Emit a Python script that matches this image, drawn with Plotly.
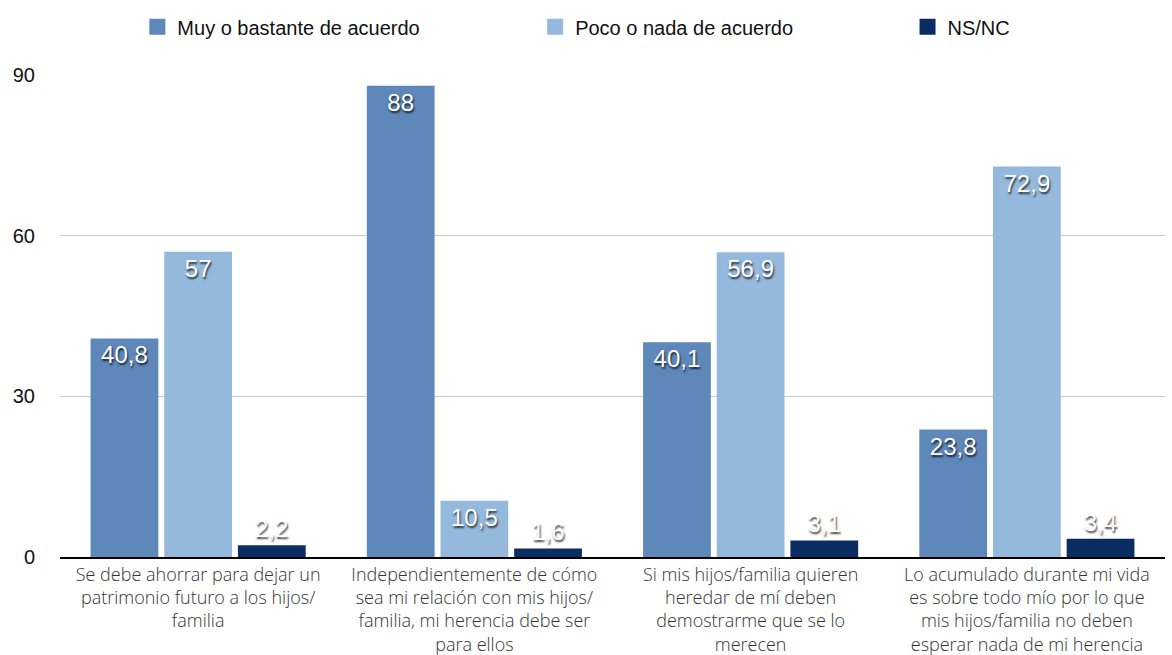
import plotly.graph_objects as go

categories = [
    "Se debe ahorrar para dejar un<br>patrimonio futuro a los hijos/<br>familia",
    "Independientemente de cómo<br>sea mi relación con mis hijos/<br>familia, mi herencia debe ser<br>para ellos",
    "Si mis hijos/familia quieren<br>heredar de mí deben<br>demostrarme que se lo<br>merecen",
    "Lo acumulado durante mi vida<br>es sobre todo mío por lo que<br>mis hijos/familia no deben<br>esperar nada de mi herencia",
]
series_names = ["Muy o bastante de acuerdo", "Poco o nada de acuerdo", "NS/NC"]
muy_acuerdo = [40.8, 88, 40.1, 23.8]
poco_acuerdo = [57, 10.5, 56.9, 72.9]
ns_nc = [2.2, 1.6, 3.1, 3.4]
y_ticks = [0, 30, 60, 90]

colors = ["#5e87ba", "#95b9dc", "#0b2d63"]
series_values = [muy_acuerdo, poco_acuerdo, ns_nc]


def fmt(v):
    s = f"{v:g}"
    return s.replace(".", ",")


fig = go.Figure()
label_font = dict(family="Liberation Sans, Arial, sans-serif", size=24, color="white",
                  shadow="1px 2px 2px rgba(0,0,0,0.75)")
for name, vals, col in zip(series_names, series_values, colors):
    fig.add_trace(go.Bar(
        x=categories, y=vals, name=name, marker=dict(color=col, line=dict(width=0)),
        text=[fmt(v) for v in vals], textposition="auto", insidetextanchor="end",
        textfont=label_font, insidetextfont=label_font, outsidetextfont=label_font,
        cliponaxis=False, showlegend=False, constraintext="none",
    ))

# legend swatches, each in its own legend box
legend_x = [0.070, 0.430, 0.767]
for i, (name, col) in enumerate(zip(series_names, colors)):
    key = "legend" if i == 0 else f"legend{i+1}"
    fig.add_trace(go.Scatter(
        x=[None], y=[None], mode="markers", name=name,
        marker=dict(symbol="square", size=19, color=col),
        legend=key, showlegend=True,
    ))

legend_style = dict(orientation="h", yanchor="middle", xanchor="left", y=1.1,
                    font=dict(family="Liberation Sans, Arial, sans-serif", size=20, color="#111"),
                    bgcolor="rgba(0,0,0,0)", itemsizing="trace")
layout_legends = {}
for i, lx in enumerate(legend_x):
    key = "legend" if i == 0 else f"legend{i+1}"
    layout_legends[key] = dict(legend_style, x=lx)

fig.update_layout(
    width=1172, height=655,
    margin=dict(l=60, r=7, t=75, b=98),
    paper_bgcolor="white", plot_bgcolor="white",
    barmode="group", bargap=0.2, bargroupgap=0.08,
    separators=",.",
    **layout_legends,
)
fig.update_xaxes(
    showline=True, linecolor="black", linewidth=2, ticks="", automargin=False,
    tickfont=dict(family="Open Sans, sans-serif", size=18, color="#333", weight=300),
    tickangle=0,
)
fig.update_yaxes(
    range=[0, 90], tickvals=y_ticks, showgrid=True, gridcolor="#c8c8c8", gridwidth=1,
    zeroline=False, showline=False, ticks="", ticklabelstandoff=24, automargin=False,
    tickfont=dict(family="Liberation Sans, Arial, sans-serif", size=20, color="#111"),
)

fig.write_html("out.html")
